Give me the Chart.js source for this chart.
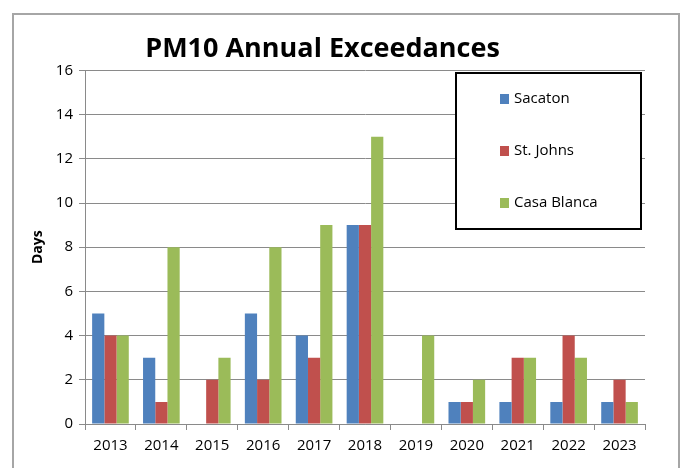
<!DOCTYPE html>
<html>
<head>
<meta charset="utf-8">
<script src="https://cdn.jsdelivr.net/npm/chart.js@4/dist/chart.umd.min.js"></script>
<style>
  html, body { margin: 0; padding: 0; background: #fff; }
  #wrap { width: 681px; height: 468px; }
</style>
</head>
<body>
<div id="wrap"><canvas id="pmChart" width="681" height="468"></canvas></div>
<script>
"use strict";

// Data
const years = ["2013", "2014", "2015", "2016", "2017", "2018", "2019", "2020", "2021", "2022", "2023"];
const sacaton = [5, 3, 0, 5, 4, 9, 0, 1, 1, 1, 1];
const stJohns = [4, 1, 2, 2, 3, 9, 0, 1, 3, 4, 2];
const casaBlanca = [4, 8, 3, 8, 9, 13, 4, 2, 3, 3, 1];
const yTicks = [0, 2, 4, 6, 8, 10, 12, 14, 16];

const FONT = "'Open Sans', 'DejaVu Sans', sans-serif";
const GRID = "#8a8a8a";

// Outer frame of the chart object (like the spreadsheet chart border)
const framePlugin = {
  id: "frame",
  beforeDraw(chart) {
    const ctx = chart.ctx;
    ctx.save();
    ctx.strokeStyle = "#a6a6a6";
    ctx.lineWidth = 2;
    ctx.strokeRect(13, 14, 666, 470);
    ctx.restore();
  }
};

// Boxed legend inside the plot, one entry per dataset
const boxLegend = {
  id: "boxLegend",
  afterDraw(chart) {
    const ctx = chart.ctx;
    const x = 456, y = 73, w = 185, h = 156;
    ctx.save();
    ctx.fillStyle = "#fff";
    ctx.fillRect(x, y, w, h);
    ctx.strokeStyle = "#000";
    ctx.lineWidth = 2;
    ctx.strokeRect(x, y, w, h);
    ctx.font = "15px " + FONT;
    ctx.textBaseline = "middle";
    chart.data.datasets.forEach((ds, i) => {
      const cy = 99 + i * 52;
      ctx.fillStyle = ds.backgroundColor;
      ctx.fillRect(500, cy - 5, 9, 10);
      ctx.fillStyle = "#000";
      ctx.fillText(ds.label, 514, cy);
    });
    ctx.restore();
  }
};

const ctx = document.getElementById("pmChart").getContext("2d");
const pmChart = new Chart(ctx, {
  type: "bar",
  data: {
    labels: years,
    datasets: [
      { label: "Sacaton", data: sacaton, backgroundColor: "#4f81bd" },
      { label: "St. Johns", data: stJohns, backgroundColor: "#c0504d" },
      { label: "Casa Blanca", data: casaBlanca, backgroundColor: "#9bbb59" }
    ]
  },
  options: {
    responsive: false,
    animation: false,
    layout: { padding: { left: 0, right: 36, top: 0, bottom: 6 } },
    datasets: {
      bar: { categoryPercentage: 0.72, barPercentage: 1.0 }
    },
    plugins: {
      legend: { display: false },
      tooltip: { enabled: false },
      title: {
        display: true,
        text: "PM10 Annual Exceedances",
        color: "#000",
        font: { family: FONT, size: 27, weight: "bold" },
        padding: { top: 33, bottom: 5 }
      }
    },
    scales: {
      x: {
        grid: {
          offset: true,
          drawOnChartArea: false,
          tickLength: 6,
          color: GRID
        },
        border: { color: GRID, width: 1 },
        ticks: {
          color: "#000",
          font: { family: FONT, size: 15 },
          padding: 7,
          maxRotation: 0
        }
      },
      y: {
        min: 0,
        max: 16,
        afterBuildTicks(scale) {
          scale.ticks = yTicks.map(v => ({ value: v }));
        },
        afterFit(scale) {
          scale.width = 85;
        },
        grid: { color: GRID, tickLength: 6 },
        border: { color: GRID, width: 1 },
        ticks: {
          color: "#000",
          font: { family: FONT, size: 15 },
          padding: 6
        },
        title: {
          display: true,
          text: "Days",
          color: "#000",
          font: { family: FONT, size: 14, weight: "bold" },
          padding: { top: 30, bottom: 0 }
        }
      }
    }
  },
  plugins: [framePlugin, boxLegend]
});
</script>
</body>
</html>
